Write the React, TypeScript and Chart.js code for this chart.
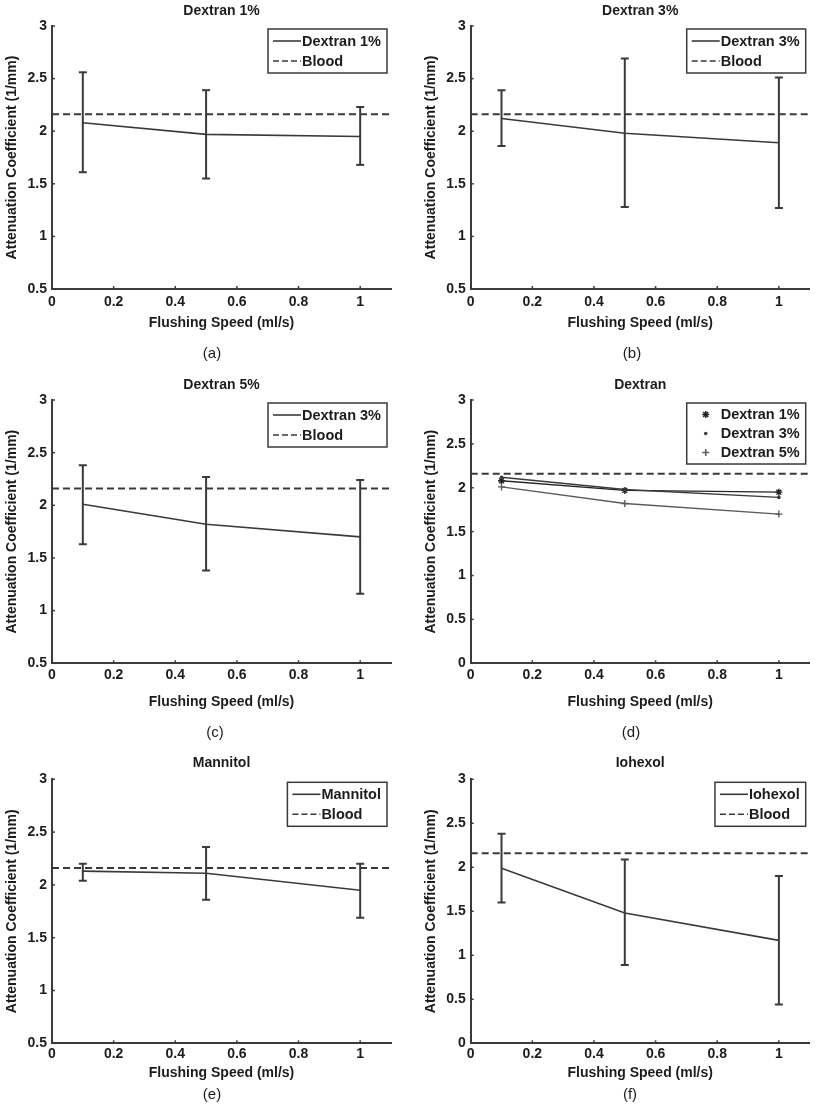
import React, { useEffect, useRef } from "react";
import { Chart, registerables } from "chart.js";

Chart.register(...registerables);

// ---------------- data ----------------
const flushSpeeds = [0.1, 0.5, 1];
const bloodLevel = 2.16;
const xAxisMax = 1.1;
const xTickValues = [0, 0.2, 0.4, 0.6, 0.8, 1];
const yTicksFromHalf = [0.5, 1, 1.5, 2, 2.5, 3];
const yTicksFromZero = [0, 0.5, 1, 1.5, 2, 2.5, 3];

const dextran1Mean = [2.08, 1.97, 1.95];
const dextran1Upper = [2.56, 2.39, 2.23];
const dextran1Lower = [1.61, 1.55, 1.68];

const dextran3Mean = [2.12, 1.98, 1.89];
const dextran3Upper = [2.39, 2.69, 2.51];
const dextran3Lower = [1.86, 1.28, 1.27];

const dextran5Mean = [2.01, 1.82, 1.7];
const dextran5Upper = [2.38, 2.27, 2.24];
const dextran5Lower = [1.63, 1.38, 1.16];

const mannitolMean = [2.13, 2.11, 1.95];
const mannitolUpper = [2.2, 2.36, 2.2];
const mannitolLower = [2.04, 1.86, 1.69];

const iohexolMean = [1.99, 1.48, 1.17];
const iohexolUpper = [2.38, 2.09, 1.9];
const iohexolLower = [1.6, 0.89, 0.44];

const panelTitles = ["Dextran 1%", "Dextran 3%", "Dextran 5%", "Dextran", "Mannitol", "Iohexol"];
const panelCaptions = ["(a)", "(b)", "(c)", "(d)", "(e)", "(f)"];
const xAxisTitle = "Flushing Speed (ml/s)";
const yAxisTitle = "Attenuation Coefficient (1/mm)";
const bloodLabel = "Blood";

// ---------------- styles ----------------
const FONT = '"Liberation Sans", Arial, Helvetica, sans-serif';
const textColor = "#1c1c1c";
const axisColor = "#3a3a3a";
const lineColor = "#3a3a3a";
const bloodDash = [7, 4];

Chart.defaults.font.family = FONT;
Chart.defaults.color = textColor;

// ---------------- plugins ----------------
const innerTicksPlugin = {
  id: "innerTicks",
  afterDatasetsDraw(chart: any) {
    const { ctx, chartArea, scales } = chart;
    ctx.save();
    ctx.strokeStyle = axisColor;
    ctx.lineWidth = 1.5;
    const len = 3;
    scales.x.ticks.forEach((t: any) => {
      const px = scales.x.getPixelForValue(t.value);
      ctx.beginPath();
      ctx.moveTo(px, chartArea.bottom);
      ctx.lineTo(px, chartArea.bottom - len);
      ctx.stroke();
    });
    scales.y.ticks.forEach((t: any) => {
      const py = scales.y.getPixelForValue(t.value);
      ctx.beginPath();
      ctx.moveTo(chartArea.left, py);
      ctx.lineTo(chartArea.left + len, py);
      ctx.stroke();
    });
    ctx.restore();
  },
};

function drawMarker(ctx: CanvasRenderingContext2D, kind: string, x: number, y: number, color: string) {
  ctx.save();
  ctx.strokeStyle = color;
  ctx.fillStyle = color;
  ctx.lineWidth = 1.5;
  const r = 3.5;
  if (kind === "star") {
    ctx.beginPath();
    ctx.moveTo(x - r, y); ctx.lineTo(x + r, y);
    ctx.moveTo(x, y - r); ctx.lineTo(x, y + r);
    const d = r * 0.72;
    ctx.moveTo(x - d, y - d); ctx.lineTo(x + d, y + d);
    ctx.moveTo(x - d, y + d); ctx.lineTo(x + d, y - d);
    ctx.stroke();
  } else if (kind === "circle") {
    ctx.beginPath();
    ctx.arc(x, y, 1.8, 0, Math.PI * 2);
    ctx.fill();
  } else if (kind === "cross") {
    ctx.beginPath();
    ctx.moveTo(x - r, y); ctx.lineTo(x + r, y);
    ctx.moveTo(x, y - r); ctx.lineTo(x, y + r);
    ctx.stroke();
  }
  ctx.restore();
}

const boxLegendPlugin = {
  id: "boxLegend",
  afterDraw(chart: any, _args: any, opts: any) {
    if (!opts || !opts.items || !opts.items.length) return;
    const { ctx, chartArea } = chart;
    const items = opts.items as any[];
    const rowH = opts.rowHeight || 20;
    ctx.save();
    ctx.font = `bold 14.5px ${FONT}`;
    const textW = Math.max(...items.map((it) => ctx.measureText(it.text).width));
    const w = 5 + 28 + 1 + textW + 6;
    const h = items.length * rowH + 4;
    const x0 = chartArea.right - 4 - w;
    const y0 = chartArea.top + 3;
    ctx.fillStyle = "#ffffff";
    ctx.fillRect(x0, y0, w, h);
    ctx.strokeStyle = axisColor;
    ctx.lineWidth = 1.5;
    ctx.strokeRect(x0, y0, w, h);
    items.forEach((it, i) => {
      const cy = y0 + 2 + rowH * (i + 0.5);
      const sx = x0 + 5;
      if (it.marker) {
        drawMarker(ctx, it.marker, sx + 14, cy, it.color);
      } else {
        ctx.save();
        ctx.strokeStyle = it.color;
        ctx.lineWidth = 1.6;
        ctx.setLineDash(it.dash || []);
        ctx.beginPath();
        ctx.moveTo(sx, cy);
        ctx.lineTo(sx + 28, cy);
        ctx.stroke();
        ctx.restore();
      }
      ctx.fillStyle = textColor;
      ctx.textAlign = "left";
      ctx.textBaseline = "middle";
      ctx.fillText(it.text, sx + 29, cy + 0.5);
    });
    ctx.restore();
  },
};

// ---------------- dataset builders ----------------
function meanDataset(label: string, mean: number[], color: string, extra: any = {}) {
  return {
    label,
    data: flushSpeeds.map((x, i) => ({ x, y: mean[i] })),
    borderColor: color,
    backgroundColor: color,
    borderWidth: 1.6,
    pointRadius: 0,
    tension: 0,
    ...extra,
  };
}

function errorDataset(label: string, upper: number[], lower: number[], color: string) {
  return {
    label: label + " error",
    data: flushSpeeds.flatMap((x, i) => [
      { x, y: lower[i] },
      { x, y: upper[i] },
      { x, y: null },
    ]),
    borderColor: color,
    borderWidth: 2,
    spanGaps: false,
    pointStyle: "line",
    pointRadius: 4,
    pointBorderWidth: 2,
    pointBorderColor: color,
    pointBackgroundColor: color,
  };
}

function bloodDataset() {
  return {
    label: bloodLabel,
    data: [
      { x: 0, y: bloodLevel },
      { x: xAxisMax, y: bloodLevel },
    ],
    borderColor: lineColor,
    borderWidth: 2,
    borderDash: bloodDash,
    pointRadius: 0,
  };
}

// ---------------- layout geometry ----------------
const rowGeo = [
  { top: 0, height: 370, titleTop: 2.8, titleBottom: 6.4, xHeight: 42.1, tickPad: 4.4, padBottom: 38.9, captionY: 352.7 },
  { top: 370, height: 370, titleTop: 7.2, titleBottom: 6.0, xHeight: 46.8, tickPad: 3.3, padBottom: 29.9, captionY: 731.7 },
  { top: 740, height: 371, titleTop: 15.2, titleBottom: 7.3, xHeight: 38.4, tickPad: 2.6, padBottom: 29.3, captionY: 1094.3 },
];
const colGeo = [
  { left: 0, width: 408, padLeft: 0, padRight: 17 },
  { left: 408, width: 408, padLeft: 10.7, padRight: 6.3 },
];
const captionXs = [212, 632, 215, 631, 212, 630];

type PanelDef = {
  idx: number;
  yTicks: number[];
  datasets: any[];
  legend: any[];
  rowHeight: number;
};

const solidItem = (text: string) => ({ text, color: lineColor, dash: [] });
const bloodItem = { text: bloodLabel, color: lineColor, dash: [6, 3] };

const d1Color = "#262626";
const d3Color = "#3a3a3a";
const d5Color = "#5a5a5a";

const panels: PanelDef[] = [
  {
    idx: 0,
    yTicks: yTicksFromHalf,
    datasets: [bloodDataset(), meanDataset("Dextran 1%", dextran1Mean, lineColor), errorDataset("Dextran 1%", dextran1Upper, dextran1Lower, lineColor)],
    legend: [solidItem("Dextran 1%"), bloodItem],
    rowHeight: 20,
  },
  {
    idx: 1,
    yTicks: yTicksFromHalf,
    datasets: [bloodDataset(), meanDataset("Dextran 3%", dextran3Mean, lineColor), errorDataset("Dextran 3%", dextran3Upper, dextran3Lower, lineColor)],
    legend: [solidItem("Dextran 3%"), bloodItem],
    rowHeight: 20,
  },
  {
    idx: 2,
    yTicks: yTicksFromHalf,
    datasets: [bloodDataset(), meanDataset("Dextran 3%", dextran5Mean, lineColor), errorDataset("Dextran 5%", dextran5Upper, dextran5Lower, lineColor)],
    legend: [solidItem("Dextran 3%"), bloodItem],
    rowHeight: 20,
  },
  {
    idx: 3,
    yTicks: yTicksFromZero,
    datasets: [
      bloodDataset(),
      meanDataset("Dextran 5%", dextran5Mean, d5Color, { borderWidth: 1.4, pointStyle: "cross", pointRadius: 3.5, pointBorderWidth: 1.4, pointBorderColor: d5Color }),
      meanDataset("Dextran 3%", dextran3Mean, d3Color, { borderWidth: 1.4, pointStyle: "circle", pointRadius: 1.8, pointBorderWidth: 0, pointBackgroundColor: d3Color }),
      meanDataset("Dextran 1%", dextran1Mean, d1Color, { borderWidth: 1.4, pointStyle: "star", pointRadius: 3.5, pointBorderWidth: 1.4, pointBorderColor: d1Color }),
    ],
    legend: [
      { text: "Dextran 1%", color: d1Color, marker: "star" },
      { text: "Dextran 3%", color: d3Color, marker: "circle" },
      { text: "Dextran 5%", color: d5Color, marker: "cross" },
    ],
    rowHeight: 19,
  },
  {
    idx: 4,
    yTicks: yTicksFromHalf,
    datasets: [bloodDataset(), meanDataset("Mannitol", mannitolMean, lineColor), errorDataset("Mannitol", mannitolUpper, mannitolLower, lineColor)],
    legend: [solidItem("Mannitol"), bloodItem],
    rowHeight: 20,
  },
  {
    idx: 5,
    yTicks: yTicksFromZero,
    datasets: [bloodDataset(), meanDataset("Iohexol", iohexolMean, lineColor), errorDataset("Iohexol", iohexolUpper, iohexolLower, lineColor)],
    legend: [solidItem("Iohexol"), bloodItem],
    rowHeight: 20,
  },
];

function buildConfig(p: PanelDef): any {
  const row = rowGeo[Math.floor(p.idx / 2)];
  const col = colGeo[p.idx % 2];
  const yTicks = p.yTicks;
  return {
    type: "line",
    data: { datasets: p.datasets },
    options: {
      animation: false,
      responsive: false,
      maintainAspectRatio: false,
      events: [],
      layout: { padding: { left: col.padLeft, right: col.padRight, top: 0, bottom: row.padBottom } },
      plugins: {
        legend: { display: false },
        tooltip: { enabled: false },
        title: {
          display: true,
          text: panelTitles[p.idx],
          fullSize: false,
          color: textColor,
          font: { size: 14, weight: "bold", family: FONT },
          padding: { top: row.titleTop, bottom: row.titleBottom },
        },
        boxLegend: { items: p.legend, rowHeight: p.rowHeight },
      },
      scales: {
        x: {
          type: "linear",
          min: 0,
          max: xAxisMax,
          bounds: "data",
          grid: { display: false, drawTicks: false, tickLength: 0 },
          border: { display: true, color: axisColor, width: 2 },
          ticks: {
            color: textColor,
            font: { size: 14, weight: "bold", family: FONT },
            padding: row.tickPad,
            maxRotation: 0,
            autoSkip: false,
            callback: (v: any) => String(v),
          },
          afterBuildTicks: (s: any) => {
            s.ticks = xTickValues.map((v) => ({ value: v }));
          },
          afterFit: (s: any) => {
            s.height = row.xHeight;
          },
          title: {
            display: true,
            text: xAxisTitle,
            color: textColor,
            font: { size: 14, weight: "bold", family: FONT },
            padding: { top: 0, bottom: 0 },
          },
        },
        y: {
          type: "linear",
          min: yTicks[0],
          max: yTicks[yTicks.length - 1],
          bounds: "data",
          grid: { display: false, drawTicks: false, tickLength: 0 },
          border: { display: true, color: axisColor, width: 2 },
          ticks: {
            color: textColor,
            font: { size: 14, weight: "bold", family: FONT },
            padding: 5,
            autoSkip: false,
            callback: (v: any) => String(v),
          },
          afterBuildTicks: (s: any) => {
            s.ticks = yTicks.map((v) => ({ value: v }));
          },
          afterFit: (s: any) => {
            s.width = 52;
          },
          title: {
            display: true,
            text: yAxisTitle,
            color: textColor,
            font: { size: 14, weight: "bold", family: FONT },
            padding: { top: 3.6, bottom: 0 },
          },
        },
      },
    },
    plugins: [innerTicksPlugin, boxLegendPlugin],
  };
}

function PanelChart({ p }: { p: PanelDef }) {
  const ref = useRef<HTMLCanvasElement>(null);
  const row = rowGeo[Math.floor(p.idx / 2)];
  const col = colGeo[p.idx % 2];
  useEffect(() => {
    if (!ref.current) return;
    const chart = new Chart(ref.current, buildConfig(p));
    return () => chart.destroy();
  }, []);
  return (
    <>
      <canvas
        ref={ref}
        width={col.width}
        height={row.height}
        style={{ position: "absolute", left: col.left, top: row.top, width: col.width, height: row.height, display: "block" }}
      />
      <div
        style={{
          position: "absolute",
          left: captionXs[p.idx] - 30,
          top: row.captionY - 9,
          width: 60,
          height: 18,
          lineHeight: "18px",
          textAlign: "center",
          fontFamily: FONT,
          fontSize: 15,
          color: textColor,
        }}
      >
        {panelCaptions[p.idx]}
      </div>
    </>
  );
}

export default function App() {
  return (
    <div style={{ position: "absolute", left: 0, top: 0, width: 816, height: 1111, background: "#ffffff", overflow: "hidden" }}>
      {panels.map((p) => (
        <PanelChart key={p.idx} p={p} />
      ))}
    </div>
  );
}
